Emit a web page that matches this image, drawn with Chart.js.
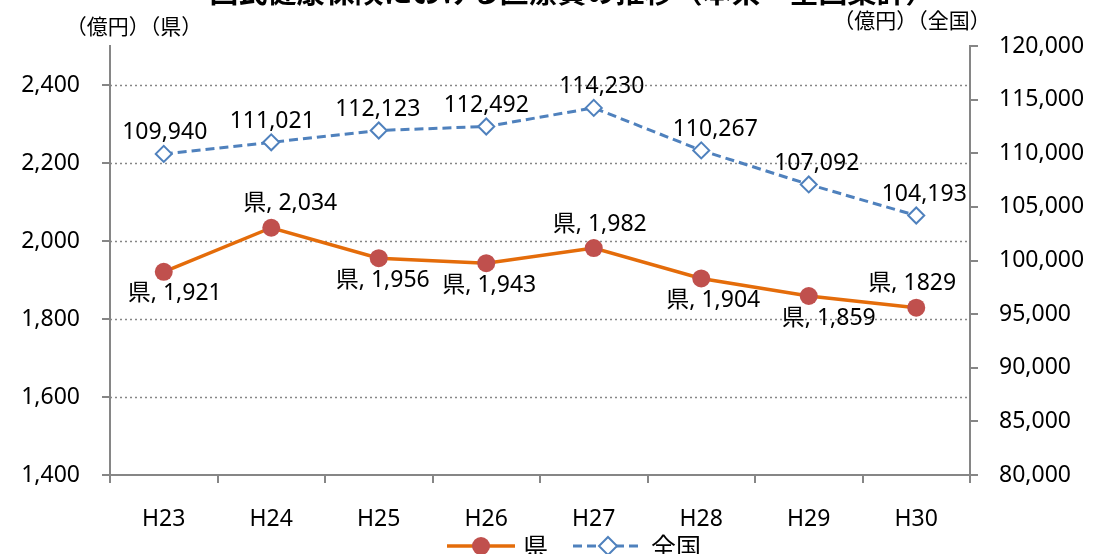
<!DOCTYPE html>
<html lang="ja">
<head>
    <meta charset="UTF-8">
    <title>国民健康保険 医療費の推移</title>
    <style>
        html, body { margin: 0; padding: 0; background: #fff; }
        #wrap { position: relative; width: 1100px; height: 554px; overflow: hidden; }
    </style>
</head>
<body>
    <div id="wrap"><canvas id="chart" width="1100" height="554"></canvas></div>

    <script src="https://cdn.jsdelivr.net/npm/chart.js"></script>
    <script>
        // data
        var years = ['H23', 'H24', 'H25', 'H26', 'H27', 'H28', 'H29', 'H30'];
        var prefValues = [1921, 2034, 1956, 1943, 1982, 1904, 1859, 1829];
        var nationValues = [109940, 111021, 112123, 112492, 114230, 110267, 107092, 104193];
        var prefTicks = [1400, 1600, 1800, 2000, 2200, 2400];
        var nationTicks = [80000, 85000, 90000, 95000, 100000, 105000, 110000, 115000, 120000];

        // label placement (style only)
        var prefLabelSide = ['below', 'above', 'below', 'below', 'above', 'below', 'below', 'above'];
        var prefLabelDx = [11, 19, 4, 3, 6, 12, 20, -4];
        var nationLabelDx = [1, 1, -1, 0, 8, 14, 8, 8];
        var prefLabelPlain = [false, false, false, false, false, false, false, true];

        var FONT = "'Noto Sans', 'Noto Sans CJK JP', sans-serif";
        var JPFONT = "'Noto Sans CJK JP', 'Noto Sans', sans-serif";
        var AXIS = '#868686';

        function fmt(v) { return v.toLocaleString('en-US'); }

        var extras = {
            id: 'extras',
            afterDatasetsDraw: function(chart) {
                var ctx = chart.ctx;
                ctx.save();
                ctx.fillStyle = '#000';
                ctx.textAlign = 'center';
                ctx.textBaseline = 'middle';
                ctx.font = '23px ' + FONT;

                chart.getDatasetMeta(0).data.forEach(function(pt, i) {
                    var v = prefLabelPlain[i] ? String(prefValues[i]) : fmt(prefValues[i]);
                    var dy = prefLabelSide[i] === 'above' ? -24 : 22;
                    ctx.fillText('県, ' + v, pt.x + prefLabelDx[i], pt.y + dy);
                });
                chart.getDatasetMeta(1).data.forEach(function(pt, i) {
                    ctx.fillText(fmt(nationValues[i]), pt.x + nationLabelDx[i], pt.y - 21);
                });

                // title (cut at the top edge like the source)
                ctx.font = 'bold 29px ' + JPFONT;
                ctx.textBaseline = 'alphabetic';
                ctx.fillText('国民健康保険における医療費の推移（本県・全国集計）', 572, 3);

                // axis unit captions
                ctx.font = '21px ' + JPFONT;
                ctx.textBaseline = 'middle';
                ctx.fillText('（億円）（県）', 134, 26);
                ctx.fillText('（億円）（全国）', 912, 20);

                // legend
                var ly = 546;
                ctx.lineWidth = 3.5;
                ctx.strokeStyle = '#E46C0A';
                ctx.beginPath(); ctx.moveTo(447, ly); ctx.lineTo(515, ly); ctx.stroke();
                ctx.fillStyle = '#C0504D';
                ctx.beginPath(); ctx.arc(481, ly, 9, 0, Math.PI * 2); ctx.fill();
                ctx.strokeStyle = '#4F81BD';
                ctx.lineWidth = 3;
                ctx.setLineDash([9, 5]);
                ctx.beginPath(); ctx.moveTo(573, ly); ctx.lineTo(643, ly); ctx.stroke();
                ctx.setLineDash([]);
                ctx.fillStyle = '#fff';
                ctx.lineWidth = 2;
                ctx.beginPath();
                ctx.moveTo(608, ly - 9); ctx.lineTo(617, ly); ctx.lineTo(608, ly + 9); ctx.lineTo(599, ly);
                ctx.closePath(); ctx.fill(); ctx.stroke();
                ctx.fillStyle = '#000';
                ctx.textAlign = 'left';
                ctx.font = '25px ' + JPFONT;
                ctx.fillText('県', 523, ly);
                ctx.fillText('全国', 651, ly);
                ctx.restore();
            }
        };

        var chart = new Chart(document.getElementById('chart').getContext('2d'), {
            type: 'line',
            data: {
                labels: years,
                datasets: [
                    {
                        label: '県',
                        data: prefValues,
                        yAxisID: 'y',
                        borderColor: '#E46C0A',
                        borderWidth: 3.5,
                        pointBackgroundColor: '#C0504D',
                        pointBorderColor: '#C0504D',
                        pointRadius: 9,
                        pointBorderWidth: 0,
                        tension: 0
                    },
                    {
                        label: '全国',
                        data: nationValues,
                        yAxisID: 'y2',
                        borderColor: '#4F81BD',
                        borderWidth: 3,
                        borderDash: [9, 5],
                        pointStyle: 'rectRot',
                        pointRadius: 8,
                        pointBackgroundColor: '#fff',
                        pointBorderColor: '#4F81BD',
                        pointBorderWidth: 2,
                        tension: 0
                    }
                ]
            },
            options: {
                responsive: false,
                animation: false,
                layout: { padding: { top: 46, bottom: 0, left: 0, right: 0 } },
                plugins: {
                    legend: { display: false },
                    title: { display: false },
                    tooltip: { enabled: false }
                },
                scales: {
                    x: {
                        offset: true,
                        afterFit: function(s) { s.height = 79; },
                        border: { color: AXIS, width: 2 },
                        grid: { offset: true, drawOnChartArea: false, color: AXIS, lineWidth: 2, tickLength: 8 },
                        ticks: { color: '#000', padding: 23, font: { size: 23, family: FONT } }
                    },
                    y: {
                        position: 'left',
                        min: 1400,
                        max: 2500,
                        afterFit: function(s) { s.width = 110; },
                        afterBuildTicks: function(s) { s.ticks = prefTicks.map(function(v) { return { value: v }; }); },
                        border: { color: AXIS, width: 2 },
                        grid: { drawOnChartArea: false, color: AXIS, lineWidth: 2, tickLength: 8 },
                        ticks: {
                            color: '#000',
                            padding: 22,
                            font: { size: 23, family: FONT },
                            callback: function(v) { return fmt(v); }
                        }
                    },
                    y2: {
                        position: 'right',
                        min: 80000,
                        max: 120000,
                        afterFit: function(s) { s.width = 130; },
                        afterBuildTicks: function(s) { s.ticks = nationTicks.map(function(v) { return { value: v }; }); },
                        border: { color: AXIS, width: 2 },
                        grid: { drawOnChartArea: false, color: AXIS, lineWidth: 2, tickLength: 8 },
                        ticks: {
                            color: '#000',
                            padding: 21,
                            font: { size: 23, family: FONT },
                            callback: function(v) { return fmt(v); }
                        }
                    }
                }
            },
            plugins: [
                {
                    id: 'dottedGrid',
                    beforeDatasetsDraw: function(chart) {
                        var ctx = chart.ctx, area = chart.chartArea, ys = chart.scales.y;
                        ctx.save();
                        ctx.strokeStyle = AXIS;
                        ctx.lineWidth = 1.5;
                        ctx.setLineDash([2, 3]);
                        prefTicks.forEach(function(v) {
                            if (v === ys.min) return;
                            var y = Math.round(ys.getPixelForValue(v)) + 0.5;
                            ctx.beginPath(); ctx.moveTo(area.left, y); ctx.lineTo(area.right, y); ctx.stroke();
                        });
                        ctx.restore();
                    }
                },
                extras
            ]
        });
    </script>
</body>
</html>
